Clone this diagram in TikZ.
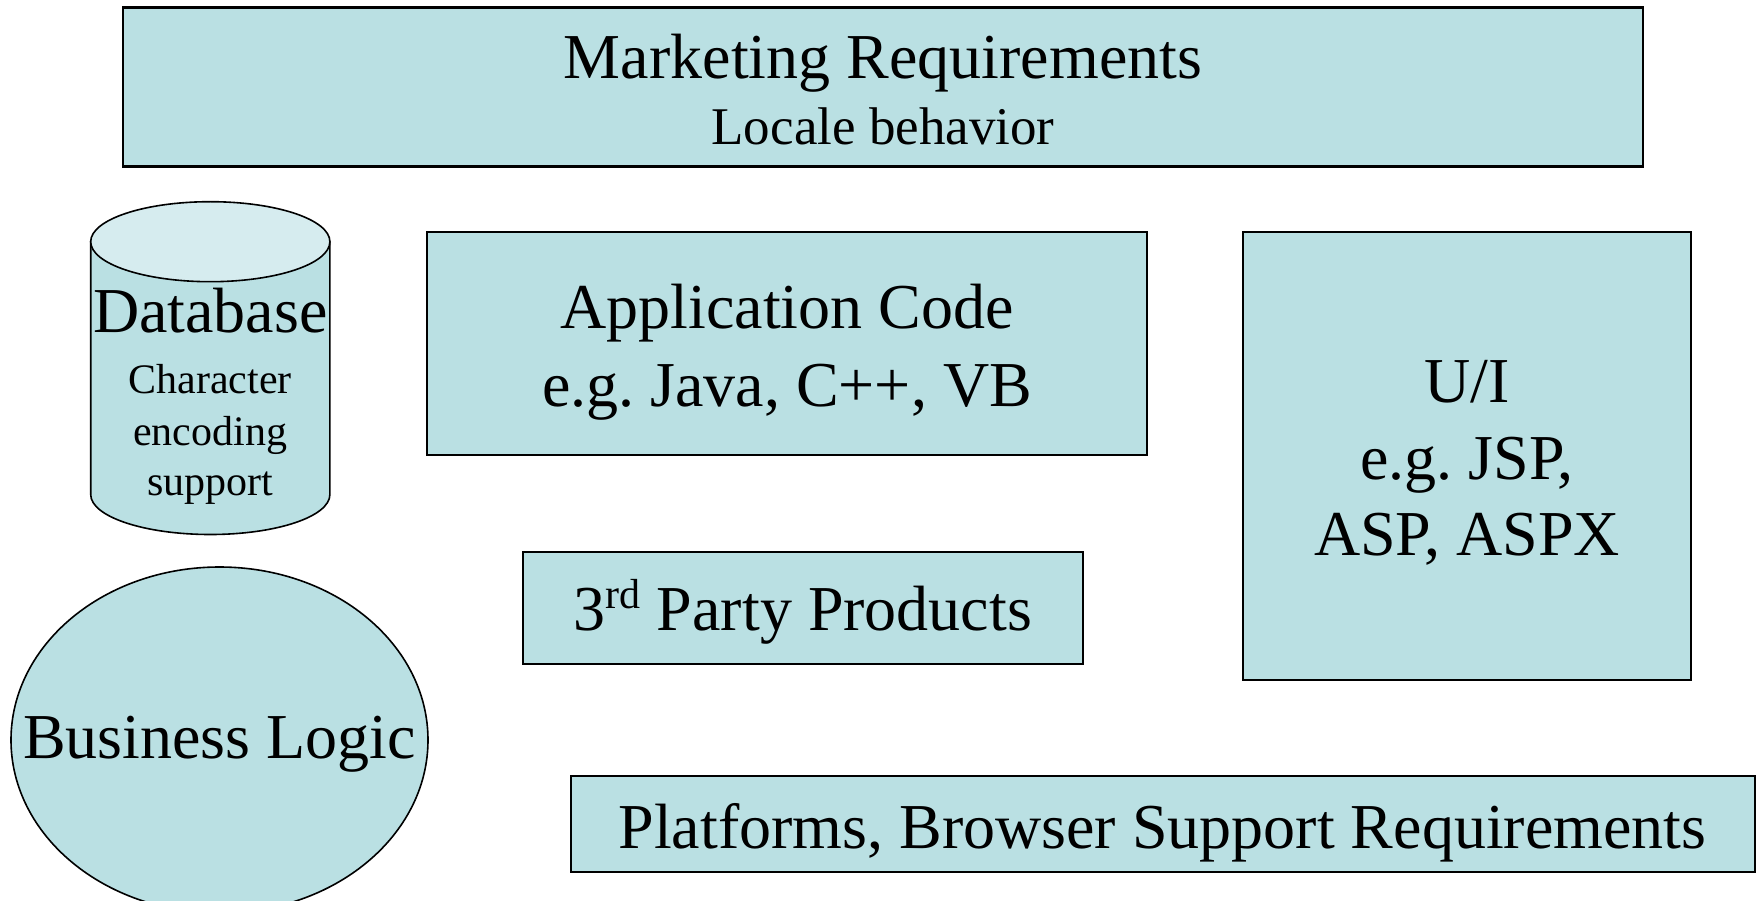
\documentclass[tikz,border=0pt]{standalone}
\usepackage{fontspec}
\setmainfont{Liberation Serif}
\usetikzlibrary{shapes.geometric}
\frenchspacing
\definecolor{boxfill}{HTML}{BAE0E3}
\definecolor{topfill}{HTML}{D6ECEF}
\tikzset{
  box/.style={draw=black, line width=2pt, fill=boxfill, inner sep=0pt},
  big/.style={font=\fontsize{64}{64}\selectfont, inner sep=0pt, anchor=base},
  mid/.style={font=\fontsize{53}{53}\selectfont, inner sep=0pt, anchor=base},
  small/.style={font=\fontsize{42}{42}\selectfont, inner sep=0pt, anchor=base},
}
\begin{document}
\begin{tikzpicture}[x=1pt, y=-1pt]
  \useasboundingbox (0,0) rectangle (1758,901);
  \fill[white] (0,0) rectangle (1758,901);

  % Marketing requirements banner
  \node[box, line width=2.5pt, minimum width=1520pt, minimum height=159pt] (mkt) at (883,87) {};
  \node[big] (mktA) at (883,79) {Marketing Requirements};
  \node[mid] (mktB) at (883,145) {Locale behavior};

  % Database cylinder
  \coordinate (db) at (210.3,367);
  \draw[line width=1.6pt, fill=boxfill] (90.7,241.7) -- (90.7,494.5)
     arc[start angle=180, end angle=360, x radius=119.6pt, y radius=40pt]
     -- (329.9,241.7) -- cycle;
  \draw[line width=1.6pt, fill=topfill] (210.3,241.7) ellipse[x radius=119.6pt, y radius=40pt];
  \node[big] (dbA) at (210.3,332) {Database};
  \node[small] (dbB) at (210.3,393) {Character};
  \node[small] (dbC) at (210.3,445) {encoding};
  \node[small] (dbD) at (210.3,495) {support};

  % Application code
  \node[box, minimum width=720pt, minimum height=223pt] (app) at (787,343.7) {};
  \node[big] (appA) at (787,328) {Application Code};
  \node[big] (appB) at (787,406.5) {e.g. Java, C++, VB};

  % User interface
  \node[box, minimum width=448pt, minimum height=448pt] (ui) at (1467,456) {};
  \node[big] (uiA) at (1467,402.7) {U/I};
  \node[big] (uiB) at (1467,479) {e.g. JSP,};
  \node[big] (uiC) at (1467,555) {ASP, ASPX};

  % Third party products
  \node[box, minimum width=560pt, minimum height=112pt] (tpp) at (803,608) {};
  \node[big] (tppA) at (803,630.7)
    {3\raisebox{22pt}{\fontsize{42}{42}\selectfont rd} Party Products};

  % Business logic
  \node[draw=black, line width=1.6pt, fill=boxfill, ellipse,
        minimum width=417pt, minimum height=346pt, inner sep=0pt] (biz) at (219.5,740) {};
  \node[big] (bizA) at (219.5,758.3) {Business Logic};

  % Platforms and browsers
  \node[box, minimum width=1184pt, minimum height=96pt] (plat) at (1162.5,823.7) {};
  \node[big] (platA) at (1162.5,848.3) {Platforms, Browser Support Requirements};
\end{tikzpicture}
\end{document}
